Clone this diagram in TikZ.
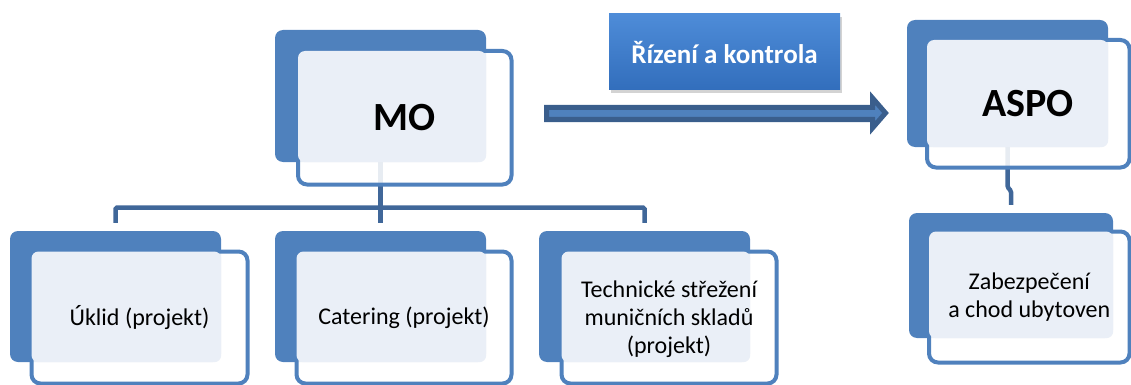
\documentclass[tikz,border=0pt]{standalone}
\usepackage{fontspec}
\setmainfont{Carlito}
\usetikzlibrary{shadows}
\definecolor{boxblue}{RGB}{79,129,189}
\definecolor{lightfill}{RGB}{234,239,247}
\definecolor{connblue}{RGB}{64,103,153}
\definecolor{arrowdark}{RGB}{58,94,140}
\definecolor{rktop}{RGB}{78,140,216}
\definecolor{rkbot}{RGB}{50,110,188}
\begin{document}
\begin{tikzpicture}[x=1pt,y=-1pt,
  backbox/.style={fill=boxblue, rounded corners=8pt, inner sep=0pt},
  frontbox/.style={draw=boxblue, line width=4pt, fill=white, fill opacity=0.88, rounded corners=9pt, inner sep=0pt},
  lightbox/.style={fill=lightfill, rounded corners=7pt},
  conn/.style={draw=connblue, line width=4.5pt, rounded corners=1.5pt},
  bigtext/.style={font=\fontsize{40}{44}\selectfont\bfseries, text=black, inner sep=0pt},
  smalltext/.style={font=\fontsize{24}{28}\selectfont, text=black, align=center, inner sep=0pt},
  rkbox/.style={top color=rktop, bottom color=rkbot, draw=none, minimum width=231pt, minimum height=76pt, inner sep=0pt,
    drop shadow={shadow xshift=2pt, shadow yshift=-3pt, opacity=0.35},
    font=\fontsize{27}{31}\selectfont\bfseries, text=white},
  blockarrow/.style={fill=boxblue, draw=arrowdark, line width=5pt, line join=miter}
]
\useasboundingbox (0,0) rectangle (1131,385);

% back boxes
\node[backbox, minimum width=211pt, minimum height=132pt] (moB) at (380.5,96) {};
\node[backbox, minimum width=201pt, minimum height=127pt] (asB) at (1007.5,83.5) {};
\node[backbox, minimum width=204pt, minimum height=125pt] (zbB) at (1011,275.5) {};
\node[backbox, minimum width=211pt, minimum height=131pt] (ukB) at (115.5,296.5) {};
\node[backbox, minimum width=211pt, minimum height=131pt] (caB) at (380.5,296.5) {};
\node[backbox, minimum width=211pt, minimum height=131pt] (tsB) at (644.5,296.5) {};

% connectors
\coordinate (bar) at (0,207.5);
\draw[conn] (moB.south) -- ([yshift=8pt]caB.north);
\draw[conn] ([yshift=8pt]ukB.north) |- (bar -| caB.north) -| ([yshift=8pt]tsB.north);
\draw[conn] (asB.south) -- ++(0,40) -- ([yshift=22pt]zbB.north) -- ([yshift=8pt]zbB.north);

% front (outline) boxes
\node[frontbox, minimum width=213.5pt, minimum height=133.5pt] (moF) at (404.75,117.75) {};
\node[frontbox, minimum width=202.5pt, minimum height=127.5pt] (asF) at (1028.25,103.75) {};
\node[frontbox, minimum width=200.5pt, minimum height=131pt] (zbF) at (1029.25,297) {};
\node[frontbox, minimum width=216pt, minimum height=132pt] (ukF) at (139.5,317.5) {};
\node[frontbox, minimum width=215pt, minimum height=132pt] (caF) at (404,317.5) {};
\node[frontbox, minimum width=215pt, minimum height=132pt] (tsF) at (669,317.5) {};

% light text areas
\fill[lightbox] ([shift={(2pt,-2pt)}]moF.north west) rectangle (moB.south east);
\fill[lightbox] ([shift={(2pt,-2pt)}]asF.north west) rectangle (asB.south east);
\fill[lightbox] ([shift={(2pt,-2pt)}]zbF.north west) rectangle (zbB.south east);
\fill[lightbox] ([shift={(2pt,-2pt)}]ukF.north west) rectangle (ukB.south east);
\fill[lightbox] ([shift={(2pt,-2pt)}]caF.north west) rectangle (caB.south east);
\fill[lightbox] ([shift={(2pt,-2pt)}]tsF.north west) rectangle (tsB.south east);

% texts
\node[bigtext] (moT) at (moF.center) {MO};
\node[bigtext] (asT) at (asF.center) {ASPO};
\node[smalltext] (zbT) at (zbF.center) {Zabezpečení\\a chod ubytoven};
\node[smalltext] (ukT) at (ukF.center) {Úklid (projekt)};
\node[smalltext] (caT) at (caF.center) {Catering (projekt)};
\node[smalltext] (tsT) at ([yshift=-2pt]tsF.center) {Technické střežení\\muničních skladů\\(projekt)};

% control label and arrow
\node[rkbox] (rk) at (724.5,52) {\raisebox{-6pt}{Řízení a kontrola}};
\draw[blockarrow] (546.5,107.5) -- (872.5,107.5) -- (872.5,98) -- (885.5,113) -- (872.5,128) -- (872.5,119.5) -- (546.5,119.5) -- cycle;
\end{tikzpicture}
\end{document}
